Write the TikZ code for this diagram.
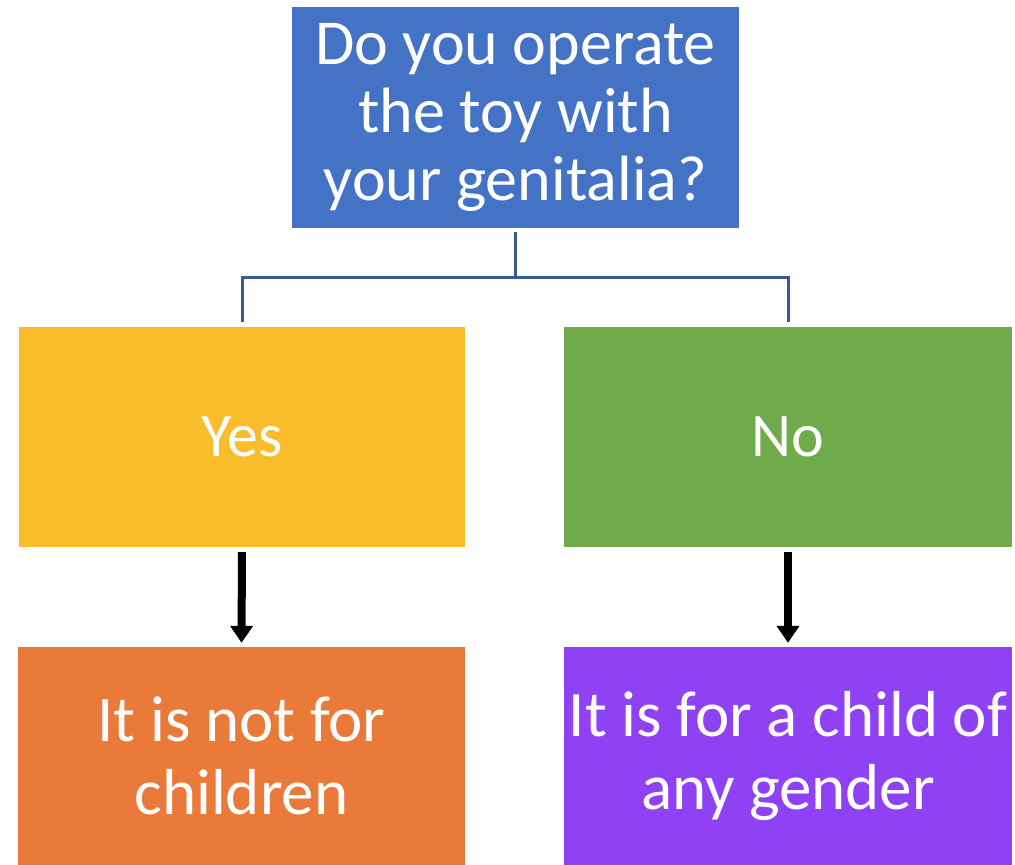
\documentclass[tikz,border=0pt]{standalone}
\usepackage{fontspec}
\setmainfont{Carlito}
\usetikzlibrary{arrows.meta,calc}
\definecolor{cblue}{HTML}{4472C4}
\definecolor{cyellow}{HTML}{F9BD2B}
\definecolor{cgreen}{HTML}{70AB4B}
\definecolor{corange}{HTML}{E97A3A}
\definecolor{cpurple}{HTML}{8F42F4}
\definecolor{cline}{HTML}{3A5A96}
\begin{document}
\begin{tikzpicture}[x=1pt,y=1pt,
  box/.style={rectangle,draw=none,text=white,align=center,inner sep=0pt,minimum height=220pt},
  tree/.style={draw=cline,line width=3pt},
  arr/.style={draw=black,line width=8pt,-{Triangle[width=22pt,length=17pt]},shorten <=5pt,shorten >=4pt}]
\fill[white] (0,0) rectangle (1015,-865);
\useasboundingbox (0,0) rectangle (1015,-865);
\node[box,fill=cblue,minimum width=447pt,minimum height=221pt,font=\fontsize{64}{68}\selectfont] (top) at (515.5,-117.5) {Do you operate\\the toy with\\your genitalia?};
\node[box,fill=cyellow,minimum width=446pt,font=\fontsize{62}{72}\selectfont] (yes) at (242,-437) {Yes};
\node[box,fill=cgreen,minimum width=448pt,font=\fontsize{62}{72}\selectfont] (no) at (788,-437) {No};
\node[box,fill=corange,minimum width=447pt,minimum height=218pt,font=\fontsize{65}{73}\selectfont] (notfor) at (241.5,-756) {It is not for\\children};
\node[box,fill=cpurple,minimum width=448pt,minimum height=218pt,font=\fontsize{65}{73}\selectfont] (anyg) at (788,-756) {It is for a child of\\any gender};
\coordinate (mid) at ($(top.south)+(0,-49)$);
\draw[tree,shorten <=4pt] (top.south) -- (mid);
\draw[tree] (mid) -| ([yshift=5pt]yes.north);
\draw[tree] (mid) -| ([yshift=5pt]no.north);
\draw[arr] (yes.south) -- (notfor.north);
\draw[arr] (no.south) -- (anyg.north);
\end{tikzpicture}
\end{document}
